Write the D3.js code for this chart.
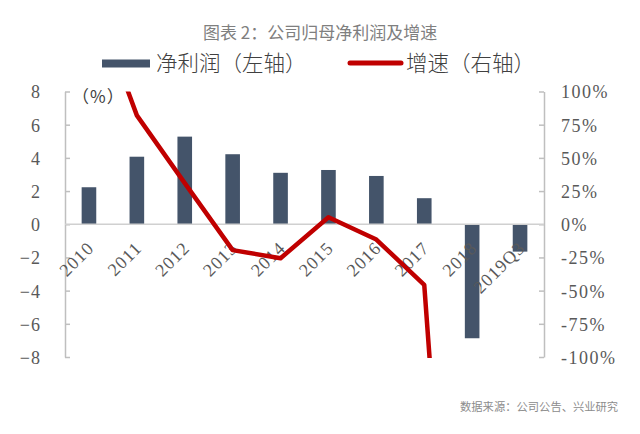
<!DOCTYPE html>
<html><head><meta charset="utf-8">
<script src="https://cdn.jsdelivr.net/npm/d3@7/dist/d3.min.js"></script>
<style>
body{margin:0;background:#fff;}
svg{display:block;}
svg text.sf{font-family:'Liberation Serif','Times New Roman',serif !important;}
</style></head>
<body>
<svg id="chart" width="640" height="434"></svg>
<script>
const categories = ['2010','2011','2012','2013','2014','2015','2016','2017','2018','2019Q3'];
const profit = [2.23, 4.07, 5.28, 4.22, 3.10, 3.27, 2.91, 1.57, -6.87, -1.65];
const growth = [180, 82, 31, -19.5, -25.6, 5.3, -11.5, -45.7, -540, null];
const leftTicks = [8, 6, 4, 2, 0, -2, -4, -6, -8];
const rightTicks = [100, 75, 50, 25, 0, -25, -50, -75, -100];
const titleText = '图表 2：公司归母净利润及增速';
const legendProfit = '净利润（左轴）';
const legendGrowth = '增速（右轴）';
const unitText = '（%）';
const sourceText = '数据来源：公司公告、兴业研究';

const CJK = '"Noto Sans CJK SC", "Noto Sans", sans-serif';

const svg = d3.select('#chart');
const L = 65, R = 544, T = 91.5, B = 357;
const x = d3.scaleBand().domain(categories).range([L, R]).paddingInner(0.695).paddingOuter(0.3475);
const yL = d3.scaleLinear().domain([-8, 8]).range([B, T]);
const yR = d3.scaleLinear().domain([-100, 100]).range([B, T]);
const axisColor = '#bfbfbf';
const textColor = '#595959';

// title
svg.append('text').style('font-family',CJK).attr('x',203).attr('y',39)
  .attr('font-size',17).attr('fill','#7f7f7f').text(titleText);

// legend
svg.append('rect').attr('x',102).attr('y',59.5).attr('width',48).attr('height',8).attr('fill','#44546a');
svg.append('text').style('font-family',CJK).attr('font-weight',300).attr('x',156).attr('y',71).attr('font-size',21.5)
  .attr('fill','#404040').text(legendProfit);
svg.append('line').attr('x1',350).attr('x2',401).attr('y1',63).attr('y2',63)
  .attr('stroke','#c00000').attr('stroke-width',5).attr('stroke-linecap','round');
svg.append('text').style('font-family',CJK).attr('font-weight',300).attr('x',406).attr('y',71).attr('font-size',21.5)
  .attr('fill','#404040').text(legendGrowth);

// left axis
const gL = svg.append('g').attr('transform',`translate(${L},0)`)
  .call(d3.axisLeft(yL).tickValues(leftTicks).tickSizeInner(-5).tickSizeOuter(0).tickPadding(24).tickFormat(d3.format('d')));
gL.attr('font-family', null);
gL.select('.domain').attr('stroke',axisColor).attr('stroke-width',1.5);
gL.selectAll('.tick line').attr('stroke',axisColor).attr('stroke-width',1.5);
gL.selectAll('.tick text').attr('class','sf').attr('font-size',18).attr('fill',textColor)
  .attr('letter-spacing','1px').attr('dy','0.36em');

// right axis
const gR = svg.append('g').attr('transform',`translate(${R},0)`)
  .call(d3.axisRight(yR).tickValues(rightTicks).tickSizeInner(-5).tickSizeOuter(0).tickPadding(17).tickFormat(d => d + '%'));
gR.attr('font-family', null);
gR.select('.domain').attr('stroke',axisColor).attr('stroke-width',1.5);
gR.selectAll('.tick line').attr('stroke',axisColor).attr('stroke-width',1.5);
gR.selectAll('.tick text').attr('class','sf').attr('font-size',18).attr('fill',textColor)
  .attr('letter-spacing','1.5px').attr('dy','0.36em');

// unit label
svg.append('text').style('font-family',CJK).attr('x',72).attr('y',103).attr('font-size',17)
  .attr('letter-spacing','1px').attr('fill','#404040').text(unitText);

// bars
svg.append('g').selectAll('rect').data(categories).join('rect')
  .attr('x', (d,i) => x(d))
  .attr('width', x.bandwidth())
  .attr('y', (d,i) => yL(Math.max(0, profit[i])))
  .attr('height', (d,i) => Math.abs(yL(profit[i]) - yL(0)))
  .attr('fill','#44546a');

// zero line
svg.append('line').attr('x1',L).attr('x2',R).attr('y1',yL(0)).attr('y2',yL(0))
  .attr('stroke','#d0d0d0').attr('stroke-width',1.5);

// category labels
svg.append('g').selectAll('text').data(categories).join('text')
  .attr('class','sf')
  .attr('transform', d => `translate(${x(d) + x.bandwidth()/2 + 6},${yL(0) + 25}) rotate(-45)`)
  .attr('text-anchor','end')
  .attr('font-size',18).attr('letter-spacing','1px').attr('fill',textColor)
  .text(d => d);

// growth line (clipped to plot area)
svg.append('clipPath').attr('id','plotclip').append('rect')
  .attr('x',L).attr('y',T).attr('width',R-L).attr('height',B-T+1);
const lineGen = d3.line()
  .defined((d,i) => growth[i] !== null)
  .x((d,i) => x(categories[i]) + x.bandwidth()/2)
  .y((d,i) => yR(growth[i]));
svg.append('path').datum(categories).attr('clip-path','url(#plotclip)')
  .attr('d', lineGen).attr('fill','none').attr('stroke','#c00000')
  .attr('stroke-width',4.5).attr('stroke-linejoin','round');

// source
svg.append('text').style('font-family',CJK).attr('x',460).attr('y',411).attr('font-size',11.3)
  .attr('fill','#8c8c8c').text(sourceText);
</script>
</body></html>
